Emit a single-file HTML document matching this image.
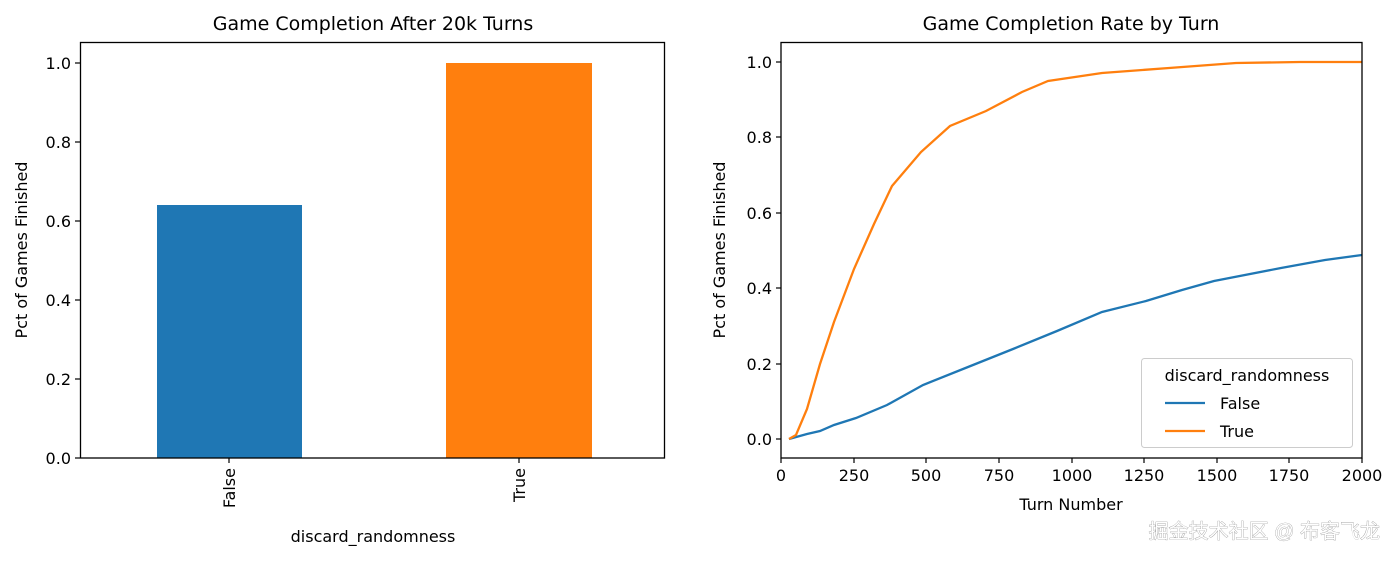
<!DOCTYPE html>
<html><head><meta charset="utf-8"><style>
html,body{margin:0;padding:0;background:#fff;}
svg text{font-family:"DejaVu Sans","Liberation Sans",sans-serif;fill:#000;}
</style></head><body>
<svg width="1400" height="561" viewBox="0 0 1400 561" xmlns="http://www.w3.org/2000/svg">
<rect width="1400" height="561" fill="#fff"/>
<text x="373" y="30" font-size="19" text-anchor="middle">Game Completion After 20k Turns</text>
<rect x="157" y="205" width="145" height="253" fill="#1f77b4"/>
<rect x="446" y="63" width="146" height="395" fill="#ff7f0e"/>
<rect x="80.5" y="42.5" width="584" height="415.5" fill="none" stroke="#000" stroke-width="1.3"/>
<g stroke="#000" stroke-width="1.2">
<line x1="75" y1="458" x2="80" y2="458"/><line x1="75" y1="379" x2="80" y2="379"/><line x1="75" y1="300" x2="80" y2="300"/><line x1="75" y1="221" x2="80" y2="221"/><line x1="75" y1="142" x2="80" y2="142"/><line x1="75" y1="63" x2="80" y2="63"/>
<line x1="229" y1="458" x2="229" y2="463"/><line x1="519" y1="458" x2="519" y2="463"/>
</g>
<g font-size="16" text-anchor="end">
<text x="71" y="464">0.0</text><text x="71" y="385">0.2</text><text x="71" y="306">0.4</text><text x="71" y="227">0.6</text><text x="71" y="148">0.8</text><text x="71" y="69">1.0</text>
</g>
<text transform="translate(235,468) rotate(-90)" font-size="16" text-anchor="end">False</text>
<text transform="translate(525,468) rotate(-90)" font-size="16" text-anchor="end">True</text>
<text x="373" y="542" font-size="16" text-anchor="middle">discard_randomness</text>
<text transform="translate(27,250) rotate(-90)" font-size="16" text-anchor="middle">Pct of Games Finished</text>
<text x="1071" y="30" font-size="19" text-anchor="middle">Game Completion Rate by Turn</text>
<g stroke="#000" stroke-width="1.2">
<line x1="776" y1="439" x2="781" y2="439"/><line x1="776" y1="364" x2="781" y2="364"/><line x1="776" y1="288" x2="781" y2="288"/><line x1="776" y1="213" x2="781" y2="213"/><line x1="776" y1="137" x2="781" y2="137"/><line x1="776" y1="62" x2="781" y2="62"/>
<line x1="781" y1="458" x2="781" y2="463"/><line x1="854" y1="458" x2="854" y2="463"/><line x1="926" y1="458" x2="926" y2="463"/><line x1="999" y1="458" x2="999" y2="463"/><line x1="1072" y1="458" x2="1072" y2="463"/><line x1="1144" y1="458" x2="1144" y2="463"/><line x1="1217" y1="458" x2="1217" y2="463"/><line x1="1289" y1="458" x2="1289" y2="463"/><line x1="1362" y1="458" x2="1362" y2="463"/>
</g>
<g font-size="16" text-anchor="end">
<text x="772" y="445">0.0</text><text x="772" y="370">0.2</text><text x="772" y="294">0.4</text><text x="772" y="219">0.6</text><text x="772" y="143">0.8</text><text x="772" y="68">1.0</text>
</g>
<g font-size="16" text-anchor="middle">
<text x="781" y="481">0</text><text x="854" y="481">250</text><text x="926" y="481">500</text><text x="999" y="481">750</text><text x="1072" y="481">1000</text><text x="1144" y="481">1250</text><text x="1217" y="481">1500</text><text x="1289" y="481">1750</text><text x="1362" y="481">2000</text>
</g>
<text x="1071" y="510" font-size="16" text-anchor="middle">Turn Number</text>
<text transform="translate(725,250) rotate(-90)" font-size="16" text-anchor="middle">Pct of Games Finished</text>
<polyline fill="none" stroke="#1f77b4" stroke-width="2.3" points="789,439 807,434 820,431 834,425 856,418 887,405 923,385 968,367 1013,349 1057,331 1102,312 1146,301 1182,290 1214,281 1281,268 1325,260 1362,255"/>
<polyline fill="none" stroke="#ff7f0e" stroke-width="2.3" points="789,439 796,435 807,409 820,364 834,322 854,269 874,224 892,186 921,152 950,126 986,111 1022,92 1048,81 1102,73 1169,68 1236,63 1300,62 1362,62"/>
<rect x="781" y="42.5" width="581" height="415.5" fill="none" stroke="#000" stroke-width="1.3"/>
<rect x="1141.5" y="358.5" width="211" height="89" rx="3" fill="#fff" fill-opacity="0.8" stroke="#ccc" stroke-width="1"/>
<text x="1247" y="381" font-size="16" text-anchor="middle">discard_randomness</text>
<line x1="1165" y1="403" x2="1205" y2="403" stroke="#1f77b4" stroke-width="2.3"/>
<text x="1220" y="409" font-size="16">False</text>
<line x1="1165" y1="431" x2="1205" y2="431" stroke="#ff7f0e" stroke-width="2.3"/>
<text x="1220" y="437" font-size="16">True</text>
<text x="1380" y="538" font-size="20" text-anchor="end" style="font-family:'Liberation Sans','Noto Sans CJK SC',sans-serif;fill:#fff;stroke:#888;stroke-width:0.6;paint-order:stroke">掘金技术社区 @ 布客飞龙</text>
</svg>
</body></html>
